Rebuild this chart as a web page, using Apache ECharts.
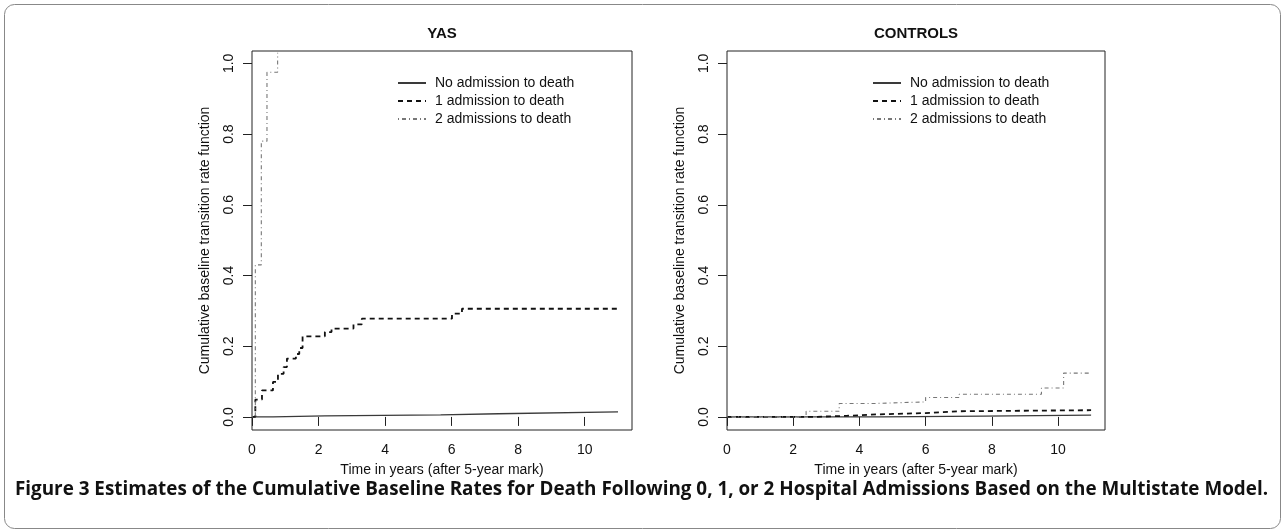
<!DOCTYPE html>
<html>
<head>
<meta charset="utf-8">
<script src="https://cdn.jsdelivr.net/npm/echarts@6/dist/echarts.min.js"></script>
<style>
  html, body { margin: 0; padding: 0; background: #fff; }
  #chart { width: 1281px; height: 529px; }
</style>
</head>
<body>
<div id="chart"></div>
<script>
// ---- data (step functions: jump time, new value) ----
const seriesNames = ['No admission to death', '1 admission to death', '2 admissions to death'];

// YAS panel
const yasNoX  = [0, 0.63, 2.19, 5.67, 7.40, 11.0];
const yasNoY  = [0, 0.003, 0.006, 0.009, 0.014, 0.014];
const yas1X   = [0, 0.10, 0.30, 0.63, 0.78, 0.95, 1.05, 1.32, 1.42, 1.52, 2.19, 2.39, 3.05, 3.30, 6.01, 6.31, 11.0];
const yas1Y   = [0, 0.049, 0.075, 0.099, 0.122, 0.141, 0.165, 0.178, 0.195, 0.228, 0.240, 0.250, 0.262, 0.278, 0.292, 0.306, 0.306];
const yas2X   = [0, 0.10, 0.28, 0.45, 0.77];
const yas2Y   = [0, 0.43, 0.78, 0.975, 1.03];

// CONTROLS panel
const ctlNoX  = [0, 4.65, 7.75, 11.0];
const ctlNoY  = [0, 0.002, 0.005, 0.005];
const ctl1X   = [0, 2.60, 3.60, 4.50, 6.00, 7.00, 11.0];
const ctl1Y   = [0, 0.003, 0.007, 0.011, 0.016, 0.019, 0.019];
const ctl2X   = [0, 2.39, 3.39, 4.45, 6.00, 7.01, 9.50, 10.17, 10.95];
const ctl2Y   = [0, 0.016, 0.038, 0.0425, 0.055, 0.064, 0.082, 0.124, 0.124];

const xTicks = [0, 2, 4, 6, 8, 10];
const yTicks = [0, 0.2, 0.4, 0.6, 0.8, 1.0];
const panelTitles = ['YAS', 'CONTROLS'];
const xAxisTitle = 'Time in years (after 5-year mark)';
const yAxisTitle = 'Cumulative baseline transition rate function';
const caption = 'Figure 3 Estimates of the Cumulative Baseline Rates for Death Following 0, 1, or 2 Hospital Admissions Based on the Multistate Model.';

function zip(xs, ys) { return xs.map((x, i) => [x, ys[i]]); }

const FONT = '"Liberation Sans", Arial, sans-serif';
const styles = [
  { color: '#3a3a3a', width: 1.3, type: 'solid' },
  { color: '#111111', width: 1.8, type: [5, 4] },
  { color: '#777777', width: 1.1, type: [1, 3, 4, 3] }
];

const panels = [
  { left: 252, right: 1281 - 632, data: [zip(yasNoX, yasNoY), zip(yas1X, yas1Y), zip(yas2X, yas2Y)] },
  { left: 727, right: 1281 - 1105, data: [zip(ctlNoX, ctlNoY), zip(ctl1X, ctl1Y), zip(ctl2X, ctl2Y)] }
];

const grid = [], xAxis = [], yAxis = [], series = [], legend = [], title = [];
panels.forEach((p, i) => {
  grid.push({ left: p.left, right: p.right, top: 51, bottom: 99, show: true, borderColor: '#222', borderWidth: 1, backgroundColor: 'transparent' });
  xAxis.push({
    type: 'value', gridIndex: i, min: 0, max: 11.42,
    axisLine: { show: false },
    axisTick: { show: true, inside: false, length: 9, lineStyle: { color: '#222' }, customValues: xTicks },
    axisLabel: { show: true, customValues: xTicks, margin: 13, color: '#111', fontSize: 14, fontFamily: FONT },
    splitLine: { show: false },
    name: xAxisTitle, nameLocation: 'middle', nameGap: 33,
    nameTextStyle: { color: '#111', fontSize: 14, fontFamily: FONT }
  });
  yAxis.push({
    type: 'value', gridIndex: i, min: -0.037, max: 1.035,
    axisLine: { show: false },
    axisTick: { show: true, inside: false, length: 9, lineStyle: { color: '#222' }, customValues: yTicks },
    axisLabel: { show: true, customValues: yTicks, rotate: 90, margin: 16, color: '#111', fontSize: 14, fontFamily: FONT,
                 formatter: v => v.toFixed(1) },
    splitLine: { show: false },
    name: yAxisTitle, nameLocation: 'middle', nameGap: 40,
    nameTextStyle: { color: '#111', fontSize: 14, fontFamily: FONT }
  });
  p.data.forEach((d, k) => {
    series.push({
      type: 'line', name: seriesNames[k], xAxisIndex: i, yAxisIndex: i,
      data: d, step: 'end', symbol: 'none', showSymbol: false, animation: false,
      lineStyle: { color: styles[k].color, width: styles[k].width, type: styles[k].type },
      itemStyle: { color: styles[k].color }
    });
  });
  legend.push({
    orient: 'vertical', left: p.left + 145, top: 76, padding: 0,
    data: seriesNames, itemWidth: 28, itemHeight: 14, itemGap: 4,
    selectedMode: false,
    itemStyle: { opacity: 0 },
    textStyle: { color: '#111', fontSize: 14, fontFamily: FONT, padding: [0, 0, 0, 4] }
  });
  title.push({
    text: panelTitles[i], left: p.left + (1281 - p.right - p.left) / 2, top: 26, textAlign: 'center', padding: 0,
    textStyle: { fontSize: 15, fontWeight: 'bold', color: '#111', fontFamily: FONT }
  });
});

// caption: fit to the reference's width with a horizontal scale
const CAP_FONT = 'bold 19px "Open Sans", "Liberation Sans", sans-serif';
const capTarget = 1253;
const mctx = document.createElement('canvas').getContext('2d');
mctx.font = CAP_FONT;
const capScale = capTarget / mctx.measureText(caption).width;

const chart = echarts.init(document.getElementById('chart'), null, { renderer: 'canvas' });
chart.setOption({
  backgroundColor: '#fff',
  animation: false,
  title, grid, xAxis, yAxis, series, legend,
  graphic: [
    { type: 'rect', left: 2, top: 2, shape: { width: 1276, height: 524, r: 10 }, style: { fill: 'none', stroke: '#888', lineWidth: 1 }, silent: true },
    { type: 'text', x: 15, y: 490, scaleX: capScale, style: { text: caption, fill: '#111', font: CAP_FONT, textVerticalAlign: 'middle', verticalAlign: 'middle' } }
  ]
});
</script>
</body>
</html>
